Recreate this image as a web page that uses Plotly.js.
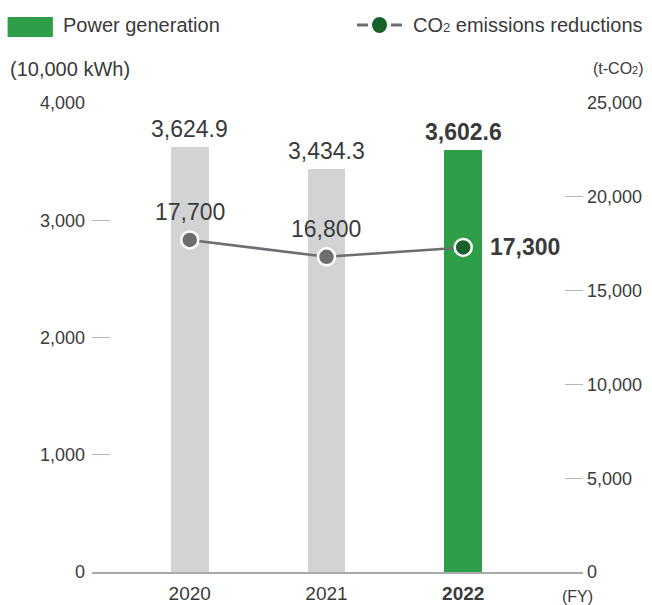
<!DOCTYPE html>
<html><head><meta charset="utf-8">
<script src="https://cdn.plot.ly/plotly-3.0.1.min.js"></script>
<style>body{margin:0;background:#fff}#c{width:652px;height:605px}</style>
</head><body><div id="c"></div>
<script>
const years = ["2020", "2021", "2022"];
const power = [3624.9, 3434.3, 3602.6];
const powerLabels = ["3,624.9", "3,434.3", "<b>3,602.6</b>"];
const co2 = [17700, 16800, 17300];
const co2Labels = ["17,700", "16,800", "<b>17,300</b>"];
const yearLabels = ["2020", "2021", "<b>2022</b>"];
const leftTicks = [0, 1000, 2000, 3000, 4000];
const rightTicks = [0, 5000, 10000, 15000, 20000, 25000];

const FONT = "Liberation Sans, Arial, sans-serif";
const TXT = "#3a3a3a";
const GRAY_BAR = "#d1d3d4";
const GREEN = "#2e9e48";
const DARK = "#17602b";
const LINE = "#6d6e71";

const xs = years.map((_, i) => i);
const bars = {
  type: "bar", x: xs, y: power, width: 0.277,
  marker: {color: [GRAY_BAR, GRAY_BAR, GREEN]},
  hoverinfo: "skip", showlegend: false
};
const line = {
  type: "scatter", mode: "lines+markers", x: xs, y: co2, yaxis: "y2",
  line: {color: LINE, width: 2.5},
  marker: {size: 17, color: [LINE, LINE, DARK], line: {color: "#fff", width: 2.5}},
  cliponaxis: false, hoverinfo: "skip", showlegend: false
};

const ann = [];
xs.forEach((x, i) => {
  ann.push({x: x, y: power[i], xref: "x", yref: "y", yanchor: "bottom", yshift: 3,
    text: powerLabels[i], showarrow: false, font: {size: 23, color: TXT}});
  if (i < 2) {
    ann.push({x: x, y: co2[i], xref: "x", yref: "y2", yanchor: "bottom", yshift: 13,
      text: co2Labels[i], showarrow: false, font: {size: 23, color: TXT}});
  } else {
    ann.push({x: x, y: co2[i], xref: "x", yref: "y2", xanchor: "left", yanchor: "middle", xshift: 25,
      text: co2Labels[i], showarrow: false, font: {size: 23, color: TXT}});
  }
});

const LY = 1.1663;
const layout = {
  width: 652, height: 605,
  margin: {l: 92, r: 69, t: 103, b: 33},
  paper_bgcolor: "#fff", plot_bgcolor: "#fff",
  font: {family: FONT, color: TXT},
  bargap: 0,
  xaxis: {
    range: [-0.715, 2.876], tickvals: xs, ticktext: yearLabels,
    showgrid: false, zeroline: false, showline: true, linecolor: "#a7a9ac", linewidth: 2,
    ticks: "", ticklabelstandoff: 3, tickfont: {size: 19, color: TXT, family: FONT}, fixedrange: true
  },
  yaxis: {
    range: [0, 4000], tickvals: leftTicks, tickformat: ",",
    showgrid: false, zeroline: false, showline: false,
    ticks: "inside", ticklen: 18, tickwidth: 1.2, tickcolor: "#b5b5b5",
    ticklabelstandoff: 6,
    tickfont: {size: 18, color: TXT, family: FONT}, fixedrange: true
  },
  yaxis2: {
    range: [0, 25000], tickvals: rightTicks, tickformat: ",",
    overlaying: "y", side: "right",
    showgrid: false, zeroline: false, showline: false,
    ticks: "inside", ticklen: 18, tickwidth: 1.2, tickcolor: "#b5b5b5",
    ticklabelstandoff: 3,
    tickfont: {size: 18, color: TXT, family: FONT}, fixedrange: true
  },
  shapes: [
    {type: "rect", xref: "paper", yref: "paper", x0: -0.1719, x1: -0.0797, y0: 1.1407, y1: 1.1834,
      fillcolor: GREEN, line: {width: 0}},
    {type: "line", xref: "paper", yref: "paper", x0: 0.5397, x1: 0.5621, y0: LY, y1: LY,
      line: {color: LINE, width: 3}},
    {type: "line", xref: "paper", yref: "paper", x0: 0.6090, x1: 0.6314, y0: LY, y1: LY,
      line: {color: LINE, width: 3}},
    {type: "circle", xref: "paper", yref: "paper", x0: 0.5703, x1: 0.6008, y0: LY - 0.0171, y1: LY + 0.0171,
      fillcolor: DARK, line: {width: 0}}
  ],
  annotations: ann.concat([
    {xref: "paper", yref: "paper", x: -0.063, y: LY, xanchor: "left", yanchor: "middle",
      text: "Power generation", showarrow: false, font: {size: 20, color: TXT}},
    {xref: "paper", yref: "paper", x: 0.6497, y: LY, xanchor: "left", yanchor: "middle",
      text: "CO<span style=\"font-size:13px\">2</span> emissions reductions", showarrow: false, font: {size: 20, color: TXT}},
    {xref: "paper", yref: "paper", x: -0.1719, y: 1.0725, xanchor: "left", yanchor: "middle",
      text: "(10,000 kWh)", showarrow: false, font: {size: 20, color: TXT}},
    {xref: "paper", yref: "paper", x: 1.1283, y: 1.0725, xanchor: "right", yanchor: "middle",
      text: "(t-CO<span style=\"font-size:11px\">2</span>)", showarrow: false, font: {size: 16, color: TXT}},
    {xref: "paper", yref: "paper", x: 0.9898, y: -0.053, xanchor: "center", yanchor: "middle",
      text: "(FY)", showarrow: false, font: {size: 16, color: TXT}}
  ])
};
Plotly.newPlot("c", [bars, line], layout, {displayModeBar: false, staticPlot: true});
</script></body></html>
